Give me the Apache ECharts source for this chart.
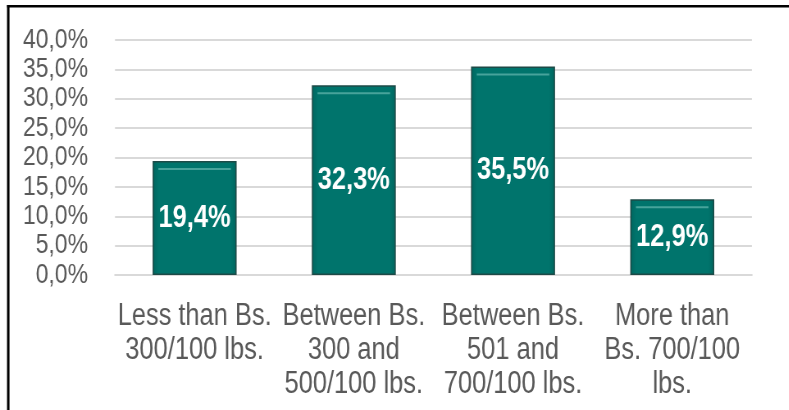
<!DOCTYPE html>
<html>
<head>
<meta charset="utf-8">
<script src="https://cdn.jsdelivr.net/npm/echarts@6/dist/echarts.min.js"></script>
<style>
html,body{margin:0;padding:0;background:#fff;overflow:hidden;}
#wrap{width:789px;height:410px;overflow:hidden;}
#chart{width:962px;height:410px;transform:scaleX(0.82);transform-origin:0 0;}
</style>
</head>
<body>
<div id="wrap"><div id="chart"></div></div>
<script>
var categories = [
  "Less than Bs.\n300/100 lbs.",
  "Between Bs.\n300 and\n500/100 lbs.",
  "Between Bs.\n501 and\n700/100 lbs.",
  "More than\nBs. 700/100\nlbs."
];
var values = [19.4, 32.3, 35.5, 12.9];
var yTicks = { min: 0, max: 40, interval: 5 };

var FONT = '"Liberation Sans", Arial, sans-serif';
var fmt = function (v) { return v.toFixed(1).replace('.', ',') + '%'; };
var SX = 0.82; // horizontal condensing to mimic a narrow font

var chart = echarts.init(document.getElementById('chart'), null, { renderer: 'canvas', width: 962, height: 410 });
chart.setOption({
  animation: false,
  backgroundColor: '#ffffff',
  grid: { left: 115 / SX, right: 37 / SX, top: 40, bottom: 135 },
  graphic: [
    { type: 'rect', shape: { x: 7 / SX, y: 5, width: 1000, height: 2.5 }, style: { fill: '#000' }, z: 100 },
    { type: 'rect', shape: { x: 7 / SX, y: 5, width: 2.5 / SX, height: 410 }, style: { fill: '#000' }, z: 100 }
  ],
  xAxis: {
    type: 'category',
    data: categories,
    axisLine: { show: true, lineStyle: { color: '#d9d9d9', width: 2 } },
    axisTick: { show: false },
    axisLabel: {
      interval: 0,
      margin: 24,
      color: '#595959',
      fontFamily: FONT,
      fontSize: 31,
      lineHeight: 34
    }
  },
  yAxis: {
    type: 'value',
    min: yTicks.min,
    max: yTicks.max,
    interval: yTicks.interval,
    axisLine: { show: false },
    axisTick: { show: false },
    splitLine: { lineStyle: { color: '#d9d9d9', width: 2 } },
    axisLabel: {
      margin: 27 / SX,
      color: '#595959',
      fontFamily: FONT,
      fontSize: 28,
      formatter: function (v) { return fmt(v); }
    }
  },
  series: [{
    type: 'bar',
    data: values,
    barWidth: 84 / SX,
    itemStyle: {
      color: {
        type: 'linear', x: 0, y: 0, x2: 1, y2: 0,
        colorStops: [
          { offset: 0, color: '#00655e' },
          { offset: 0.07, color: '#00746c' },
          { offset: 0.93, color: '#00746c' },
          { offset: 1, color: '#00655e' }
        ]
      },
      borderColor: '#1d4a47',
      borderWidth: 1.5
    },
    label: {
      show: true,
      position: 'inside',
      color: '#ffffff',
      fontFamily: FONT,
      fontWeight: 'bold',
      fontSize: 31,
      formatter: function (p) { return fmt(p.value); }
    },
    z: 2
  }, {
    type: 'custom',
    data: values,
    z: 3,
    silent: true,
    renderItem: function (params, api) {
      var top = api.coord([api.value(0), api.value(1)]);
      var w = 84 / SX;
      var x0 = top[0] - w / 2 + 7;
      var x1 = top[0] + w / 2 - 7;
      return {
        type: 'line',
        shape: { x1: x0, y1: top[1] + 8, x2: x1, y2: top[1] + 8 },
        style: { stroke: '#4fa9a1', lineWidth: 2, opacity: 0.9 }
      };
    },
    encode: { x: 0, y: 1 }
  }]
});
</script>
</body>
</html>
